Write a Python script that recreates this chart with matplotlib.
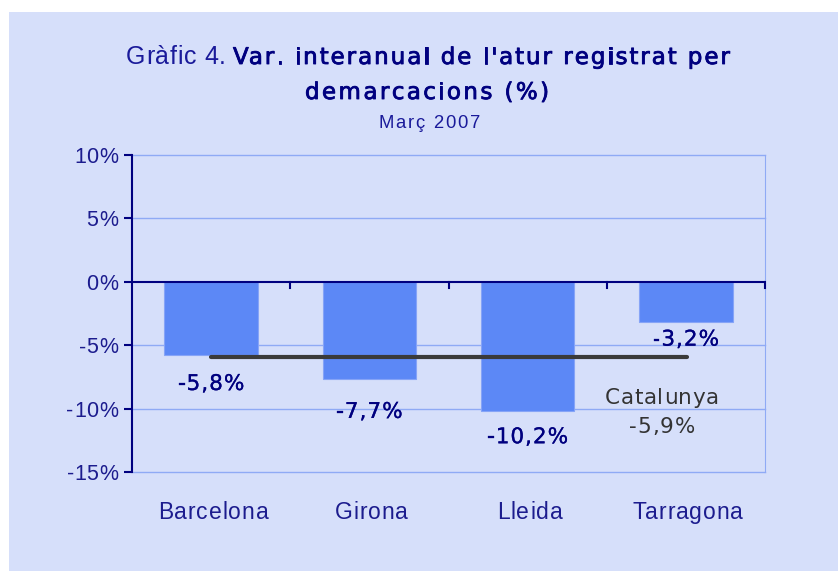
import matplotlib.pyplot as plt
import matplotlib.patheffects as pe
from matplotlib.patches import Rectangle
from matplotlib.font_manager import FontProperties
from matplotlib.transforms import IdentityTransform

# data
categories = ['Barcelona', 'Girona', 'Lleida', 'Tarragona']
values = [-5.8, -7.7, -10.2, -3.2]
catalunya = -5.9
yticks = [10, 5, 0, -5, -10, -15]

# label offsets below bar end (in % units)
label_offsets = [2.1, 2.4, 1.9, 1.2]

W, H = 838, 571
bg = '#D6DFFA'
navy = '#00007F'
tick_col = '#1C1C8E'

fig = plt.figure(figsize=(W / 100, H / 100), dpi=100)
fig.patch.set_facecolor('white')
fig.patches.append(Rectangle((9 / W, 0), 1, 1 - 12 / H, transform=fig.transFigure,
                             facecolor=bg, edgecolor='none', zorder=-10))

ax = fig.add_axes([132 / W, 1 - 472 / H, (765 - 132) / W, (472 - 155) / H])
ax.set_facecolor(bg)
renderer = fig.canvas.get_renderer()


def char_w(ch, fp):
    a = renderer.get_text_width_height_descent('a' + ch + 'a', fp, ismath=False)[0]
    b = renderer.get_text_width_height_descent('aa', fp, ismath=False)[0]
    return a - b


def spaced(x, y, s, size, color, spacing=0.0, weight='normal', family='DejaVu Sans',
           ha='center', width=None, stroke=0):
    # draw text char by char in pixel coords (y from top) with extra letter spacing
    fp = FontProperties(family=family, size=size, weight=weight)
    ws = [char_w(ch, fp) for ch in s]
    if width is not None:
        spacing = (width - sum(ws)) / (len(s) - 1)
    total = sum(ws) + spacing * (len(s) - 1)
    if ha == 'center':
        cx = x - total / 2
    elif ha == 'right':
        cx = x - total
    else:
        cx = x
    effects = [pe.withStroke(linewidth=stroke, foreground=color)] if stroke else None
    for ch, w in zip(s, ws):
        fig.text(cx, H - y, ch, transform=IdentityTransform(), fontproperties=fp,
                 color=color, ha='left', va='center_baseline', path_effects=effects)
        cx += w + spacing
    return total


x = list(range(len(categories)))
ax.bar(x, values, width=0.59, color='#5C88F6', edgecolor='#86A4F7', linewidth=0.8, zorder=3)

ax.set_xlim(-0.5, 3.5)
ax.set_ylim(-15, 10)
ax.set_yticks(yticks)
ax.set_yticklabels([])
for t in yticks:
    if t != 0:
        ax.axhline(t, color='#8FAAF5', linewidth=1, zorder=0, clip_on=False)
ax.set_xticks([])

for s in ['top', 'bottom']:
    ax.spines[s].set_visible(False)
ax.spines['right'].set_color('#8FAAF5')
ax.spines['left'].set_color(navy)
ax.spines['left'].set_linewidth(1.5)
ax.tick_params(axis='y', length=6, width=1.5, color=navy)

# zero line with category separator ticks
ax.axhline(0, color=navy, linewidth=1.5, zorder=4)
for b in [0.5, 1.5, 2.5, 3.5]:
    ax.plot([b, b], [0, -0.5], color=navy, linewidth=1.5, zorder=4, clip_on=False)

# Catalunya line
ax.plot([0, 3.01], [catalunya, catalunya], color='#3A3A3A', linewidth=3, zorder=5,
        solid_capstyle='round')


def to_px(xd, yd):
    px, py = ax.transData.transform((xd, yd))
    return px, H - py


# y tick labels
for t in yticks:
    _, py = to_px(0, t)
    spaced(118, py, f'{t}%', 15.5, tick_col, 0.5, family='Liberation Sans', ha='right')

# category labels
for i, c in enumerate(categories):
    px, _ = to_px(i, 0)
    spaced(px + 2, 510, c, 16.5, tick_col, 0.9, family='Liberation Sans')

# data labels
for i, v in enumerate(values):
    px, py = to_px(i, v - label_offsets[i])
    spaced(px, py, f'{v:.1f}%'.replace('.', ','), 15.5, navy, 1.0, stroke=0.2)

# Catalunya label
spaced(662, 396, 'Catalunya', 15.5, '#333333', 0.7)
spaced(662, 425, f'{catalunya:.1f}%'.replace('.', ','), 15.5, '#333333', 1.0)

# title
spaced(126, 55, 'Gràfic 4.', 18, '#1A1A9A', width=100, family='Liberation Sans', ha='left')
spaced(233, 55, "Var. interanual de l'atur registrat per", 16.5, navy,
       width=497, ha='left', stroke=0.6)
spaced(305, 90, 'demarcacions (%)', 16.5, navy, width=244, ha='left', stroke=0.6)
spaced(429, 122, 'Març 2007', 13.3, '#1A1A9A', width=102, family='Liberation Sans')

fig.savefig('out.png', dpi=100, facecolor=fig.get_facecolor())
